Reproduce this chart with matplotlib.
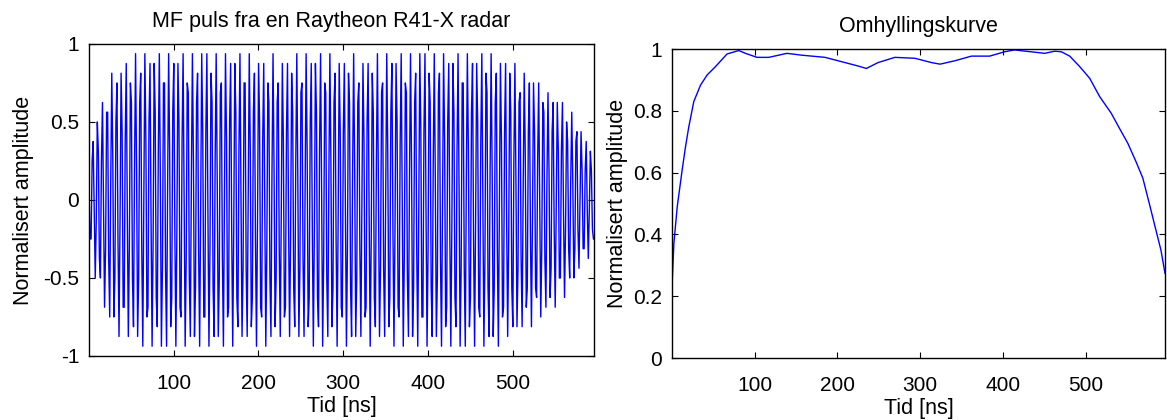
#!/usr/bin/env python3
# -*- coding: utf-8 -*-
"""
MF puls fra en Raytheon R41-X radar, og omhyllingskurven til pulsen.
Lagrer figuren som out.png (ca. 1167x420 piksler).
"""
import numpy as np
import matplotlib
matplotlib.use("Agg")
import matplotlib.pyplot as plt

# Omhyllingskurve: tid [ns] og normalisert amplitude
env_t = [0, 2.3, 6.4, 12.4, 16.4, 20.4, 26.4, 34.5, 42.5, 52.6, 66.6, 80.8,
         88.8, 102.8, 117, 139, 157, 185, 205, 225, 235, 249, 269.5, 293.7,
         313.8, 324, 342, 362, 384, 402, 414, 434, 450.6, 462.6, 470.7,
         480.8, 492.9, 505, 517, 531, 541, 551, 561, 569.2, 577, 585, 591,
         596]
env_v = [0.226, 0.37, 0.49, 0.61, 0.684, 0.749, 0.83, 0.883, 0.916, 0.943,
         0.984, 0.995, 0.986, 0.973, 0.973, 0.986, 0.98, 0.973, 0.959, 0.945,
         0.937, 0.956, 0.973, 0.97, 0.956, 0.951, 0.962, 0.977, 0.977, 0.991,
         0.997, 0.991, 0.986, 0.993, 0.991, 0.977, 0.943, 0.905, 0.846,
         0.792, 0.743, 0.695, 0.635, 0.582, 0.5, 0.414, 0.35, 0.274]

# Bæresignal (anslått fra antall perioder og toppnivåene i plottet)
sample_ns = 1.22       # samplingsintervall
carrier_ghz = 0.1787   # bærefrekvens
carrier_phase = 1.2    # fase ved t = 0
pulse_gain = 0.965     # nivå på pulsen i forhold til omhyllingen
adc_step = 1.0 / 16    # kvantiseringstrinn i digitaliseringen

x_ticks = [100, 200, 300, 400, 500]
x_lim = [0, 596]
fs = 15.5
tick_fs = 15


def make_pulse():
    """Bygger den samplede pulsen fra omhyllingskurven og bæresignalet."""
    t = np.arange(x_lim[0], x_lim[1] + 0.1, sample_ns)
    env = pulse_gain * np.interp(t, env_t, env_v)
    s = env * np.cos(2 * np.pi * carrier_ghz * t + carrier_phase)
    s = np.round(s / adc_step) * adc_step
    return t, np.clip(s, -1, 1)


def style_axes(ax, ylabelpad):
    ax.tick_params(direction="in", top=True, right=True, length=4,
                   width=0.8, labelsize=tick_fs)
    ax.tick_params(axis="x", pad=13)
    ax.tick_params(axis="y", pad=7)
    for sp in ax.spines.values():
        sp.set_linewidth(1.0)
    ax.set_xlim(x_lim)
    ax.set_xticks(x_ticks)
    ax.set_xlabel("Tid [ns]", fontsize=fs, labelpad=2)
    ax.set_ylabel("Normalisert amplitude", fontsize=fs, labelpad=ylabelpad)


def main():
    plt.rcParams["font.family"] = ["Liberation Sans", "DejaVu Sans"]

    fig = plt.figure(figsize=(11.67, 4.2), dpi=100)
    ax1 = fig.add_axes([0.0763, 0.1524, 0.4327, 0.743])
    ax2 = fig.add_axes([0.5758, 0.1476, 0.4225, 0.7357])

    t, s = make_pulse()
    ax1.plot(t, s, color="#0000ff", linewidth=1.0)
    style_axes(ax1, 7)
    ax1.set_ylim(-1, 1)
    ax1.set_yticks([-1, -0.5, 0, 0.5, 1])
    ax1.set_yticklabels(["-1", "-0.5", "0", "0.5", "1"])
    ax1.set_title("MF puls fra en Raytheon R41-X radar", fontsize=fs,
                  pad=12, x=0.48)

    ax2.plot(env_t, env_v, color="#0000ff", linewidth=1.0)
    style_axes(ax2, 4)
    ax2.set_ylim(0, 1)
    ax2.set_yticks([0, 0.2, 0.4, 0.6, 0.8, 1])
    ax2.set_yticklabels(["0", "0.2", "0.4", "0.6", "0.8", "1"])
    ax2.set_title("Omhyllingskurve", fontsize=fs, pad=12)

    fig.savefig("out.png", dpi=100)


if __name__ == "__main__":
    main()
